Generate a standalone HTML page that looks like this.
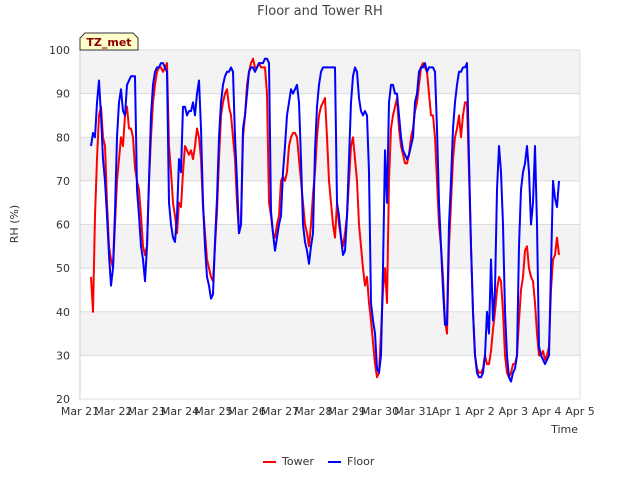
<!DOCTYPE html>
<html><head><meta charset="utf-8"><style>
body{margin:0;background:#fff;font-family:"Liberation Sans","DejaVu Sans",sans-serif}
</style></head><body>
<svg width="640" height="480" xmlns="http://www.w3.org/2000/svg" font-family="DejaVu Sans, Liberation Sans, sans-serif">
<rect x="0" y="0" width="640" height="480" fill="#fff"/>
<g id="bands"></g>
<g id="grid"></g>
<g id="xticks" font-size="11" fill="#333"></g>
<g id="yticks" font-size="11" fill="#333"></g>
<g id="series"></g>
<text x="320" y="15" text-anchor="middle" font-size="13" fill="#444">Floor and Tower RH</text>
<text x="18" y="224" text-anchor="middle" font-size="11" fill="#333" transform="rotate(-90 18 224)">RH (%)</text>
<text x="578" y="433" text-anchor="end" font-size="11" fill="#333">Time</text>
<g>
<path d="M80 50 L80 38 L85 33 L133 33 L138 38 L138 50 Z" fill="#ffffcc" stroke="#333" stroke-width="1"/>
<text x="109" y="46" text-anchor="middle" font-size="11" font-weight="bold" fill="#8b0000">TZ_met</text>
</g>
<g>
<g><line x1="263" y1="462" x2="276" y2="462" stroke="#f00" stroke-width="2"/><text x="282" y="465" font-size="11" fill="#333">Tower</text></g>
<g><line x1="328" y1="462" x2="341" y2="462" stroke="#00f" stroke-width="2"/><text x="347" y="465" font-size="11" fill="#333">Floor</text></g>
</g>
</svg>
<script>
const xTickLabels=["Mar 21","Mar 22","Mar 23","Mar 24","Mar 25","Mar 26","Mar 27","Mar 28","Mar 29","Mar 30","Mar 31","Apr 1","Apr 2","Apr 3","Apr 4","Apr 5"];
const yTickValues=[20,30,40,50,60,70,80,90,100];
const startDay=0.33;
const stepDay=0.06;
const tower=[48,40,62,75,85,87,80,78,65,55,52,50,60,70,75,80,78,85,87,82,82,80,73,70,68,62,55,53,55,70,80,88,92,95,96,96,95,96,97,78,72,65,62,58,65,64,72,78,77,76,77,75,78,82,80,75,64,58,52,50,48,47,55,63,75,85,88,90,91,87,85,80,75,65,58,60,80,85,92,95,97,98,96,96,97,96,96,96,90,65,62,58,57,60,62,70,71,70,72,78,80,81,81,80,75,70,65,60,58,55,60,67,72,80,85,87,88,89,80,70,65,60,57,65,60,57,55,58,62,70,78,80,75,70,60,55,50,46,48,42,38,33,28,25,26,35,45,50,42,70,82,85,87,89,82,78,76,74,74,76,80,82,86,88,92,96,97,96,95,90,85,85,80,70,60,55,48,38,35,55,65,75,80,82,85,80,85,88,88,72,55,40,30,27,26,26,27,30,28,28,31,36,40,45,48,47,40,30,26,25,26,28,28,30,38,45,48,54,55,50,48,47,42,35,30,30,31,29,30,32,45,52,53,57,53];
const floor=[78,81,80,88,93,85,75,70,62,53,46,50,63,80,88,91,86,85,92,93,94,94,94,68,62,55,52,47,55,70,85,92,95,96,96,97,97,96,95,65,60,57,56,62,75,72,87,87,85,86,86,88,85,90,93,82,65,55,48,46,43,44,56,66,80,88,92,94,95,95,96,95,80,70,58,60,82,85,90,95,96,96,95,96,97,97,97,98,98,97,63,58,54,57,60,62,72,78,85,88,91,90,91,92,88,75,60,56,54,51,55,58,77,87,92,95,96,96,96,96,96,96,96,65,62,57,53,54,62,75,88,94,96,95,89,86,85,86,85,72,42,38,35,27,26,30,50,77,65,88,92,92,90,90,85,80,77,76,75,76,78,80,88,90,95,96,96,97,95,96,96,96,95,82,65,55,45,37,37,60,70,82,88,92,95,95,96,96,97,75,55,40,30,26,25,25,26,30,40,35,52,38,45,68,78,72,60,40,30,25,24,26,27,30,55,68,72,74,78,72,60,65,78,60,32,30,29,28,29,30,50,70,66,64,70];
const L=80,R=580,T=50,B=399,D0=0,D1=15,V0=20,V1=100;
const xs=d=>L+(d-D0)/(D1-D0)*(R-L);
const ys=v=>B-(v-V0)/(V1-V0)*(B-T);
const NS="http://www.w3.org/2000/svg";
function mk(tag,attrs,parent){const e=document.createElementNS(NS,tag);for(const k in attrs)e.setAttribute(k,attrs[k]);parent.appendChild(e);return e;}
const bands=document.getElementById('bands'),grid=document.getElementById('grid');
for(let i=0;i<yTickValues.length-1;i++){
  const v=yTickValues[i];
  if(i%2===1){const r=mk('rect',{x:L,y:ys(v+10),width:R-L,height:ys(v)-ys(v+10),fill:'#f3f3f3'},bands);
  
  }
}
yTickValues.forEach(v=>{
  const l=mk('line',{x1:L,x2:R,y1:ys(v),y2:ys(v),stroke:'#dcdcdc','stroke-width':1},grid);
  
  
  const t=mk('text',{x:L-10,y:ys(v)+4,'text-anchor':'end'},document.getElementById('yticks'));
  t.textContent=v;
  
  
});
mk('line',{x1:L,x2:L,y1:T,y2:B,stroke:'#ccc'},grid);
mk('line',{x1:R,x2:R,y1:T,y2:B,stroke:'#ddd'},grid);
xTickLabels.forEach((s,i)=>{
  const t=mk('text',{x:xs(i),y:B+16,'text-anchor':'middle'},document.getElementById('xticks'));
  t.textContent=s;
  
  
});
const sg=document.getElementById('series');
function draw(arr,color,name){
  const pts=arr.map((v,i)=>xs(startDay+i*stepDay).toFixed(1)+','+ys(v).toFixed(1)).join(' ');
  const p=mk('polyline',{points:pts,fill:'none',stroke:color,'stroke-width':2,'stroke-linejoin':'round'},sg);
  
  
}
draw(tower,'#f00','tower-line');
draw(floor,'#00f','floor-line');
</script>
</body></html>
